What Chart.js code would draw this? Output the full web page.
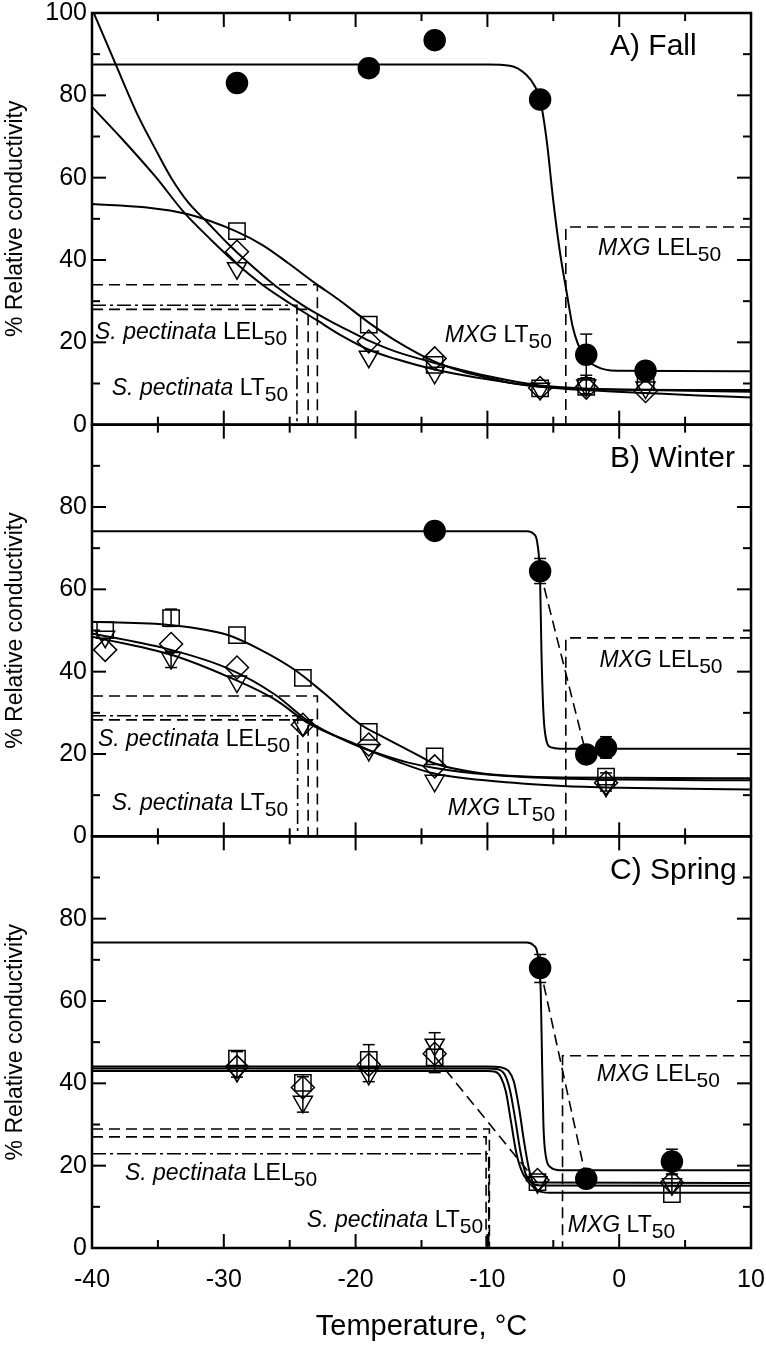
<!DOCTYPE html>
<html>
<head>
<meta charset="utf-8">
<script src="https://cdn.jsdelivr.net/npm/chart.js@4.4.1/dist/chart.umd.min.js"></script>
<style>
  html, body { margin: 0; padding: 0; background: #fff; }
  #wrap { width: 766px; height: 1350px; }
</style>
</head>
<body>
<div id="wrap"><canvas id="chart" width="766" height="1350"></canvas></div>
<script>
// ---- A) Fall ----
const fallTemp = [-29, -19, -14, -6, -2.5, 2];
const fallMxg = [83, 86.6, 93.4, 79, 17, 13.1];
const fallSquare = [47, 24.3, 14.5, 8.8, 9.2, 10.5];
const fallDiamond = [42, 20.2, 16.1, 8.9, 9.0, 8.2];
const fallTriangle = [38, 16.5, 12.6, 8.7, 9.5, 9.0];
const fallErrX = [-2.5, -2.5];
const fallErrLo = [12, 7.5];
const fallErrHi = [22, 11.4];
const fallMxgFit = [[-40, 87.5], [-10, 87.5], [-8.3, 87.2], [-7.05, 85], [-6.4, 82.2], [-6, 79], [-5.5, 69], [-5, 54.3], [-4.5, 42], [-4, 32.4], [-3.5, 23.4], [-2.75, 17], [-1.7, 14.1], [-0.2, 13.1], [10, 13]];
const fallSquareFit = [[-40, 53.6], [-36, 52.8], [-32.7, 51.1], [-29.1, 47], [-27, 43.5], [-25.1, 39.2], [-23, 34.2], [-21.3, 30.4], [-19, 24.8], [-17, 20.5], [-14, 15.3], [-12, 13], [-10, 11.4], [-8, 10], [-6, 9.2], [-3, 8.7], [0, 8.5], [5, 8.4], [10, 8.4]];
const fallDiamondFit = [[-40, 101], [-38.2, 87.5], [-36.5, 75], [-35.2, 67], [-34, 60], [-32.7, 54], [-31.2, 49], [-29.7, 44], [-28.2, 39.5], [-26, 33.5], [-24, 29], [-22, 25.3], [-20, 22], [-19, 20.4], [-17, 17.8], [-14, 15], [-10, 11.8], [-6, 9.5], [-2, 8.7], [2, 8.4], [10, 8.0]];
const fallTriangleFit = [[-40, 77.2], [-37.8, 69.7], [-35.2, 60.3], [-33, 51.5], [-31, 45], [-29, 39], [-27, 33.8], [-25, 29.5], [-23, 25.5], [-21, 21.5], [-19, 18.2], [-17, 16], [-14, 13.4], [-10, 11], [-6, 9.2], [-2, 8.3], [2, 7.7], [6, 7.1], [10, 6.6]];
const fallSpLevels = [34, 29, 28];
const fallSpTemps = [-22.9, -24.45, -23.6];
const fallMxgLel = [48, -4.05];

// ---- B) Winter ----
const winterTemp = [-39, -34, -29, -24, -19, -14, -1];
const winterSquare = [50.1, 53, 48.9, 38.5, 25.4, 19.4, 14.5];
const winterDiamond = [45.3, 46.7, 41, 27.1, 22.3, 17, 13];
const winterTriangle = [48.5, 43.3, 37.6, 27, 21, 13.5, 12.3];
const winterMxgTemp = [-14, -6, -2.5, -1];
const winterMxg = [74.2, 64.4, 19.9, 21.5];
const winterErrX = [-6, -1, -34, -34, -1];
const winterErrLo = [61.4, 19, 51, 41, 11];
const winterErrHi = [67.5, 24.2, 55.2, 45, 15.4];
const winterMxgFit = [[-40, 74.1], [-7, 74.1], [-6.5, 73.5], [-6.2, 71], [-6.0, 62], [-5.9, 45], [-5.75, 30], [-5.5, 23], [-5.15, 21.6], [-4.5, 21.3], [10, 21.3]];
const winterSquareFit = [[-40, 52.1], [-34, 51.3], [-29.7, 48.9], [-27.2, 45.3], [-24.6, 40.4], [-22.4, 34.8], [-19.6, 27.1], [-18, 24.3], [-15.6, 20.3], [-14.1, 17.8], [-10.6, 15.4], [-4.3, 14.3], [10, 14.1]];
const winterDiamondFit = [[-40, 49.3], [-34, 45.3], [-29.7, 40.8], [-26.1, 34.4], [-23.6, 28], [-20.1, 22.3], [-18, 19.8], [-16, 17.9], [-14, 16.6], [-10, 15], [-5, 14.1], [0, 13.8], [10, 13.6]];
const winterTriangleFit = [[-40, 48.5], [-34, 44.1], [-29.7, 38.8], [-26.1, 33.2], [-23.6, 27.5], [-20.1, 22.5], [-18, 19.6], [-14.1, 15.3], [-8, 13], [-4.3, 12.2], [0, 11.8], [10, 11.4]];
const winterMxgLink = [[-6, 64.4], [-2.5, 19.9]];
const winterSpLevels = [34.1, 29.3, 28.3];
const winterSpTemps = [-22.9, -24.4, -23.6];
const winterMxgLel = [48.2, -4.05];

// ---- C) Spring ----
const springTemp = [-29, -24, -19, -14, -6.2, 4];
const springSquare = [46, 40.1, 45.7, 46.3, 16, 13.1];
const springDiamond = [44, 39, 44.5, 47.2, 16.5, 15.9];
const springTriangle = [43, 35.5, 42.3, 49.4, 16, 15.5];
const springMxgTemp = [-6, -2.5, 4];
const springMxg = [68, 16.8, 21];
const springErrX = [-6, 4, -29, -24, -19, -14, 4];
const springErrLo = [64.5, 18, 41.5, 33, 40.4, 42.6, 13.5];
const springErrHi = [71.3, 24, 47.7, 41.6, 49.4, 52.3, 17.8];
const springMxgFit = [[-40, 74.2], [-7, 74.2], [-6.5, 73.5], [-6.2, 71.5], [-5.95, 62], [-5.85, 45], [-5.75, 30], [-5.55, 22], [-5.2, 19.6], [-4.5, 18.9], [10, 18.9]];
const springSquareFit = [[-40, 44.1], [-10, 44.1], [-9, 43.9], [-8.4, 43], [-8.0, 40.5], [-7.6, 34], [-7.2, 25.5], [-6.8, 18.5], [-6.4, 14.8], [-6, 13.7], [-5, 13.4], [10, 13.4]];
const springTriangleFit = [[-40, 43.6], [-10, 43.6], [-9.2, 43.4], [-8.7, 42.2], [-8.3, 38.5], [-7.9, 31.5], [-7.5, 23.5], [-7.1, 18], [-6.6, 15.7], [-6, 15.2], [10, 15.1]];
const springDiamondFit = [[-40, 43.0], [-10, 43.0], [-9.4, 42.8], [-9.0, 41.6], [-8.6, 38], [-8.2, 30.5], [-7.8, 23], [-7.3, 18], [-6.8, 16.3], [-6, 15.9], [10, 15.8]];
const springMxgLink = [[-6, 68], [-2.5, 16.8]];
const springOpenLink = [[-14, 46.5], [-6.2, 15.8]];
const springSpLevels = [28.9, 27, 22.9];
const springSpTemps = [-9.85, -10.1, -9.9];
const springMxgLel = [46.7, -4.3];

const FONT = "'Liberation Sans', Arial, Helvetica, sans-serif";
const DASH = [11, 6];
const DASHDOT = [14, 4, 3, 4];

const pts = (xs, ys) => xs.map((x, i) => ({ x: x, y: ys[i] }));
const pairs = arr => arr.map(p => ({ x: p[0], y: p[1] }));

function markers(axis, xs, ys, style) {
  const base = {
    yAxisID: axis,
    data: pts(xs, ys),
    borderColor: '#000',
    borderWidth: 1.5,
    backgroundColor: 'rgba(0,0,0,0)',
    showLine: false,
    order: 0
  };
  if (style === 'circle') return Object.assign(base, { pointStyle: 'circle', pointRadius: 10.5, backgroundColor: '#000' });
  if (style === 'square') return Object.assign(base, { pointStyle: 'rect', pointRadius: 11.5 });
  if (style === 'diamond') return Object.assign(base, { pointStyle: 'rectRot', pointRadius: 11.5 });
  return Object.assign(base, { pointStyle: 'triangle', pointRotation: 180, pointRadius: 11 });
}

function fitLine(axis, data) {
  return {
    yAxisID: axis,
    data: pairs(data),
    showLine: true,
    borderColor: '#000',
    borderWidth: 2,
    pointRadius: 0,
    cubicInterpolationMode: 'monotone',
    order: 1
  };
}

function refLine(axis, data, dash) {
  return {
    yAxisID: axis,
    data: pairs(data),
    showLine: true,
    borderColor: '#000',
    borderWidth: 1.6,
    borderDash: dash,
    pointRadius: 0,
    tension: 0,
    order: 2
  };
}

// S. pectinata lines: horizontal from the left edge, then down to 0
function spLines(axis, levels, temps, dashes) {
  return levels.map((lv, i) => refLine(axis, [[-40, lv], [temps[i], lv], [temps[i], 0]], dashes[i]));
}
// MXG LEL50 line: from the right edge, then down to 0
function mxgLel(axis, lel) {
  return refLine(axis, [[10, lel[0]], [lel[1], lel[0]], [lel[1], 0]], DASH);
}

const datasets = [
  // Fall
  markers('yA', fallTemp, fallMxg, 'circle'),
  markers('yA', fallTemp, fallSquare, 'square'),
  markers('yA', fallTemp, fallDiamond, 'diamond'),
  markers('yA', fallTemp, fallTriangle, 'triangle'),
  fitLine('yA', fallMxgFit),
  fitLine('yA', fallSquareFit),
  fitLine('yA', fallDiamondFit),
  fitLine('yA', fallTriangleFit),
  ...spLines('yA', fallSpLevels, fallSpTemps, [DASH, DASHDOT, DASH]),
  mxgLel('yA', fallMxgLel),
  // Winter
  markers('yB', winterMxgTemp, winterMxg, 'circle'),
  markers('yB', winterTemp, winterSquare, 'square'),
  markers('yB', winterTemp, winterDiamond, 'diamond'),
  markers('yB', winterTemp, winterTriangle, 'triangle'),
  fitLine('yB', winterMxgFit),
  fitLine('yB', winterSquareFit),
  fitLine('yB', winterDiamondFit),
  fitLine('yB', winterTriangleFit),
  refLine('yB', winterMxgLink, DASH),
  ...spLines('yB', winterSpLevels, winterSpTemps, [DASH, DASHDOT, DASH]),
  mxgLel('yB', winterMxgLel),
  // Spring
  markers('yC', springMxgTemp, springMxg, 'circle'),
  markers('yC', springTemp, springSquare, 'square'),
  markers('yC', springTemp, springDiamond, 'diamond'),
  markers('yC', springTemp, springTriangle, 'triangle'),
  fitLine('yC', springMxgFit),
  fitLine('yC', springSquareFit),
  fitLine('yC', springTriangleFit),
  fitLine('yC', springDiamondFit),
  refLine('yC', springMxgLink, DASH),
  refLine('yC', springOpenLink, DASH),
  ...spLines('yC', springSpLevels, springSpTemps, [DASH, DASH, DASHDOT]),
  mxgLel('yC', springMxgLel)
];

const errorBars = [
  { axis: 'yA', x: fallErrX, lo: fallErrLo, hi: fallErrHi },
  { axis: 'yB', x: winterErrX, lo: winterErrLo, hi: winterErrHi },
  { axis: 'yC', x: springErrX, lo: springErrLo, hi: springErrHi }
];

const notes = [
  { axis: 'yA', x: -39.77, y: 20.9, it: 'S. pectinata', rm: ' LEL' },
  { axis: 'yA', x: -38.5, y: 7.2, it: 'S. pectinata', rm: ' LT' },
  { axis: 'yA', x: -1.6, y: 41.3, it: 'MXG', rm: ' LEL' },
  { axis: 'yA', x: -13.24, y: 20.2, it: 'MXG', rm: ' LT' },
  { axis: 'yB', x: -39.55, y: 21.9, it: 'S. pectinata', rm: ' LEL' },
  { axis: 'yB', x: -38.5, y: 6.5, it: 'S. pectinata', rm: ' LT' },
  { axis: 'yB', x: -1.5, y: 41.2, it: 'MXG', rm: ' LEL' },
  { axis: 'yB', x: -13.0, y: 5.3, it: 'MXG', rm: ' LT' },
  { axis: 'yC', x: -37.5, y: 16.5, it: 'S. pectinata', rm: ' LEL' },
  { axis: 'yC', x: -23.7, y: 5.2, it: 'S. pectinata', rm: ' LT' },
  { axis: 'yC', x: -1.7, y: 40.5, it: 'MXG', rm: ' LEL' },
  { axis: 'yC', x: -3.9, y: 4.0, it: 'MXG', rm: ' LT' }
];

const panelTitles = [
  { axis: 'yA', text: 'A) Fall' },
  { axis: 'yB', text: 'B) Winter' },
  { axis: 'yC', text: 'C) Spring' }
];

function line(ctx, x1, y1, x2, y2) {
  ctx.beginPath();
  ctx.moveTo(x1, y1);
  ctx.lineTo(x2, y2);
  ctx.stroke();
}

// Frame, inward ticks, error bars and text labels
const framePlugin = {
  id: 'frame',
  beforeDatasetsDraw(chart) {
    const ctx = chart.ctx;
    const xs = chart.scales.x;
    ctx.save();
    ctx.strokeStyle = '#000';
    ctx.lineWidth = 1.5;
    errorBars.forEach(e => {
      const ys = chart.scales[e.axis];
      e.x.forEach((t, i) => {
        const px = xs.getPixelForValue(t);
        const lo = ys.getPixelForValue(e.lo[i]);
        const hi = ys.getPixelForValue(e.hi[i]);
        line(ctx, px, lo, px, hi);
        line(ctx, px - 6, lo, px + 6, lo);
        line(ctx, px - 6, hi, px + 6, hi);
      });
    });
    ctx.restore();
  },
  afterDraw(chart) {
    const ctx = chart.ctx;
    const xs = chart.scales.x;
    const L = chart.chartArea.left;
    const R = chart.chartArea.right;
    ctx.save();
    ctx.strokeStyle = '#000';
    ctx.fillStyle = '#000';
    ['yA', 'yB', 'yC'].forEach(id => {
      const ys = chart.scales[id];
      const T = ys.top, B = ys.bottom;
      ctx.lineWidth = 2;
      for (let v = 10; v < 100; v += 10) {
        const py = ys.getPixelForValue(v);
        const len = v % 20 === 0 ? 14 : 8;
        line(ctx, L, py, L + len, py);
        line(ctx, R, py, R - len, py);
      }
      for (let t = -35; t < 10; t += 5) {
        const px = xs.getPixelForValue(t);
        const len = t % 10 === 0 ? 14 : 8;
        line(ctx, px, T, px, T + len);
        line(ctx, px, B, px, B - len);
      }
      ctx.lineWidth = 2.5;
      ctx.strokeRect(L, T, R - L, B - T);
    });

    ctx.textAlign = 'left';
    ctx.textBaseline = 'alphabetic';
    notes.forEach(n => {
      const ys = chart.scales[n.axis];
      const px = xs.getPixelForValue(n.x);
      const py = ys.getPixelForValue(n.y);
      ctx.font = 'italic 23px ' + FONT;
      ctx.fillText(n.it, px, py);
      let w = ctx.measureText(n.it).width;
      ctx.font = '23px ' + FONT;
      ctx.fillText(n.rm, px + w, py);
      w += ctx.measureText(n.rm).width;
      ctx.font = '21px ' + FONT;
      ctx.fillText('50', px + w, py + 6);
    });

    ctx.font = '30px ' + FONT;
    panelTitles.forEach(p => {
      const ys = chart.scales[p.axis];
      ctx.fillText(p.text, xs.getPixelForValue(-0.7), ys.getPixelForValue(89.7));
    });
    ctx.restore();
  }
};

function yAxis(weight, showTop) {
  return {
    type: 'linear',
    position: 'left',
    stack: 'panels',
    stackWeight: 1,
    weight: weight,
    min: 0,
    max: 100,
    grid: { display: false, drawTicks: false },
    border: { display: false },
    ticks: {
      stepSize: 20,
      color: '#000',
      padding: 5,
      font: { family: FONT, size: 25, lineHeight: 1 },
      callback: v => (v === 100 && !showTop) ? '' : v
    },
    title: {
      display: true,
      text: '% Relative conductivity',
      color: '#000',
      font: { family: FONT, size: 23 },
      padding: { top: 2, bottom: 0 }
    },
    afterFit: s => {
      s.width = 92;
      s.paddingTop = 0;
      s.paddingBottom = 0;
    }
  };
}

new Chart(document.getElementById('chart'), {
  type: 'scatter',
  data: { datasets: datasets },
  options: {
    responsive: false,
    animation: false,
    devicePixelRatio: 1,
    layout: { padding: { top: 12, right: 15, bottom: 0, left: 0 } },
    plugins: { legend: { display: false }, tooltip: { enabled: false } },
    scales: {
      x: {
        type: 'linear',
        position: 'bottom',
        min: -40,
        max: 10,
        grid: { display: false, drawTicks: false },
        border: { display: false },
        ticks: { stepSize: 10, color: '#000', padding: 17, font: { family: FONT, size: 25 } },
        title: {
          display: true,
          text: 'Temperature, °C',
          color: '#000',
          font: { family: FONT, size: 29 },
          padding: { top: 0, bottom: 6 }
        },
        afterFit: s => {
          s.height = 102;
          s.paddingLeft = 0;
          s.paddingRight = 0;
        }
      },
      yA: yAxis(3, true),
      yB: yAxis(2, false),
      yC: yAxis(1, false)
    }
  },
  plugins: [framePlugin]
});
</script>
</body>
</html>
